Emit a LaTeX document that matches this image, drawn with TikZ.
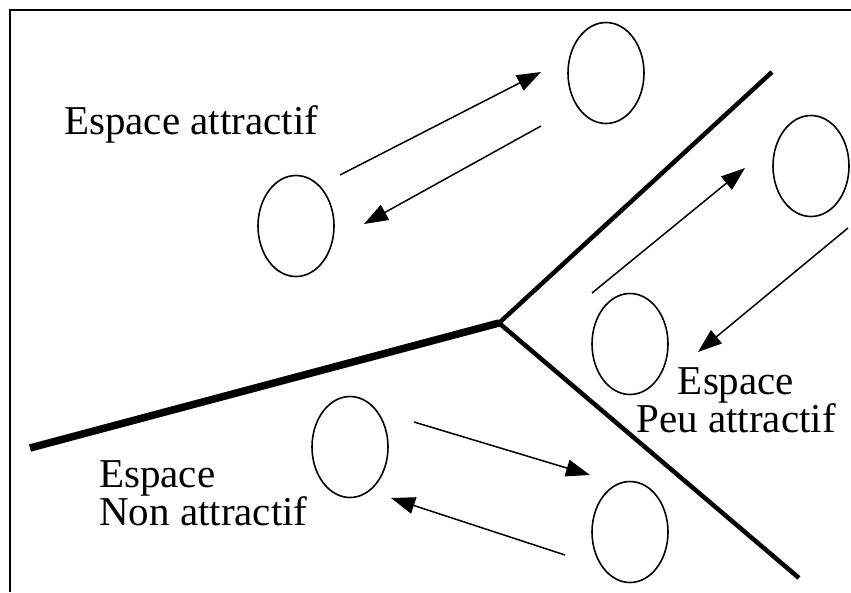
\documentclass[tikz,border=0pt]{standalone}
\usepackage{fontspec}
\setmainfont{Liberation Serif}
\usetikzlibrary{positioning, arrows.meta, shapes.geometric}

\begin{document}
\begin{tikzpicture}[
    x=1pt, y=-1pt,
    cell/.style={ellipse, draw, line width=1.6pt, minimum width=76pt, minimum height=101pt, inner sep=0pt},
    zone/.style={font=\fontsize{41}{38}\selectfont, inner sep=0pt},
    flow/.style={-{Triangle[length=24pt, width=17pt]}, line width=1.5pt},
    wall/.style={line width=4.5pt}
]
\useasboundingbox (0,0) rectangle (851,592);
\draw[line width=1.5pt] (851,10) -- (10,10) -- (10,592);

\node[cell] (c1) at (606,73) {};
\node[cell] (c2) at (296,226) {};
\node[cell] (c3) at (811,166) {};
\node[cell] (c4) at (630,344) {};
\node[cell] (c5) at (350,447) {};
\node[cell] (c6) at (630,532) {};

\coordinate (mid) at (499,323);
\coordinate (westEnd) at (30,448);
\coordinate (northEnd) at (772,72);
\coordinate (southEnd) at (799,578);
\draw[wall, line width=7.5pt] (westEnd) -- (mid);
\draw[wall] (mid) -- (northEnd);
\draw[wall] (mid) -- (southEnd);

\coordinate (a1s) at (340,175);
\coordinate (a1e) at (541,72);
\coordinate (a2s) at (541,126);
\coordinate (a2e) at (364,224);
\coordinate (a3s) at (592,293);
\coordinate (a3e) at (745,168);
\coordinate (a4s) at (848,228);
\coordinate (a4e) at (698,352);
\coordinate (a5s) at (414,422);
\coordinate (a5e) at (590,475);
\coordinate (a6s) at (565,555);
\coordinate (a6e) at (391,498);

\draw[flow] (a1s) -- (a1e);
\draw[flow] (a2s) -- (a2e);
\draw[flow] (a3s) -- (a3e);
\draw[flow] (a4s) -- (a4e);
\draw[flow] (a5s) -- (a5e);
\draw[flow] (a6s) -- (a6e);

\node[zone, anchor=base west] (attr) at (64,134) {Espace attractif};
\node[zone, align=center, anchor=north] (peu) at (736,367) {Espace\\Peu attractif};
\node[zone, align=left, anchor=north west] (non) at (99,460) {Espace\\Non attractif};

\end{tikzpicture}
\end{document}
